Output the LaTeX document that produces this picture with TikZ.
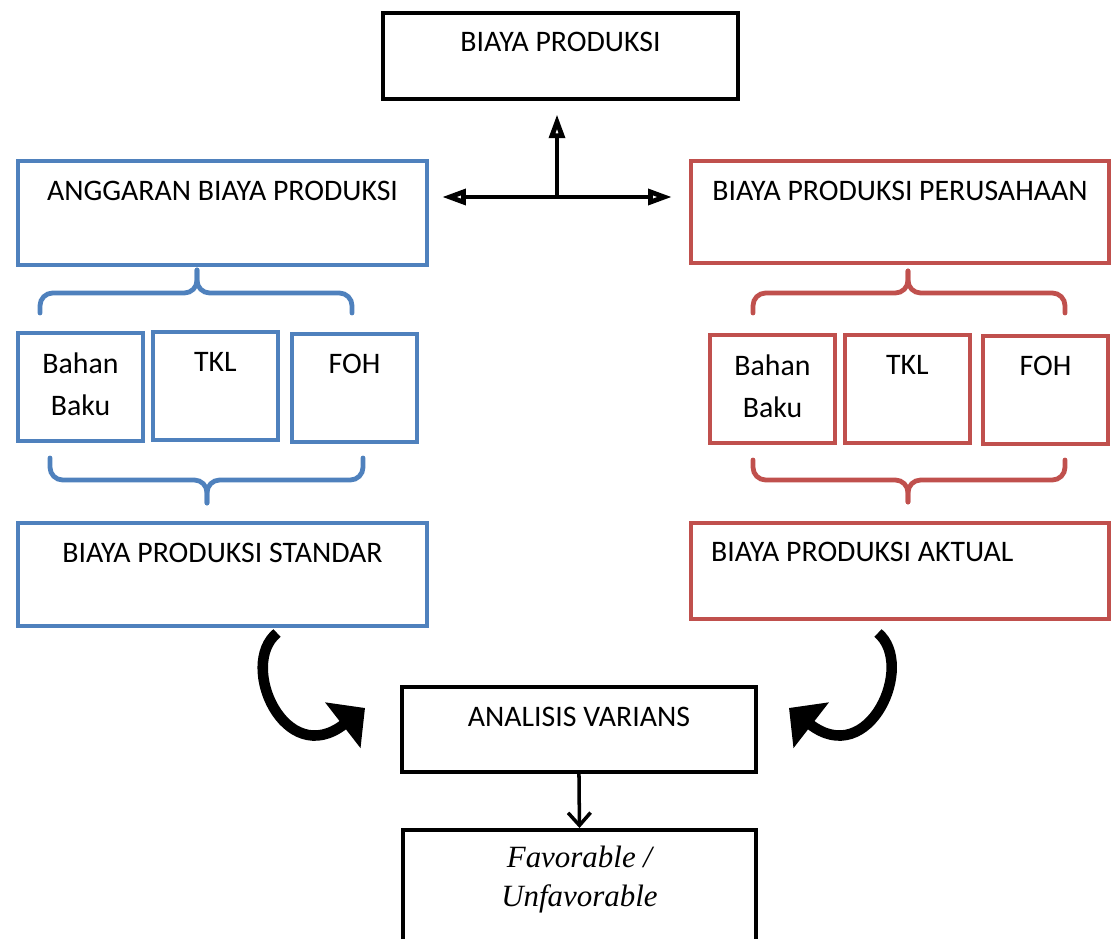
\documentclass[tikz,border=0pt]{standalone}
\usepackage{fontspec}
\setmainfont{Carlito}
\newfontfamily\serifit{Liberation Serif}
\usetikzlibrary{arrows.meta,positioning}

\definecolor{boxblue}{HTML}{4F81BD}
\definecolor{boxred}{HTML}{C0504D}

\def\px{0.025cm}
\def\boxline{2.8pt}

\begin{document}
\begin{tikzpicture}[x=\px, y=-\px,
    nodes = {font=\fontsize{21.2}{30}\selectfont},
    boxframe/.style = {draw, line width=\boxline, inner sep=0pt, anchor=north west},
    wh/.style 2 args = {minimum width=#1*\px, minimum height=#2*\px},
    boxtext/.style = {inner sep=0pt, align=center},
    bracket/.style = {line width=3.4pt, rounded corners=9pt, line cap=round},
    link/.style = {line width=3.4pt},
    bend arrow/.style = {line width=7.5pt, -{Triangle[length=20pt,width=40pt]}},
    >={Triangle[open,length=17pt,width=11pt]},
  ]
  \path[use as bounding box] (0,0) rectangle (1112,939);

  % top box
  \node[boxframe, wh={355}{86}] (prod) at (381,11) {};
  \node[boxtext, below=15pt of prod.north] (prod-t) {BIAYA PRODUKSI};

  % big boxes of both columns
  \foreach \nm/\bx/\by/\bw/\bht/\bcol/\btxt in {
      angg/16/159/409/104/boxblue/{ANGGARAN BIAYA PRODUKSI},
      perus/689/159/418/102/boxred/{BIAYA PRODUKSI PERUSAHAAN},
      std/16/521/409/103/boxblue/{BIAYA PRODUKSI STANDAR}%
    } {
      \node[boxframe, draw=\bcol, minimum width=\bw*\px, minimum height=\bht*\px]
        (\nm) at (\bx,\by) {};
      \node[boxtext, below=15.5pt of \nm.north] (\nm-t) {\btxt};
    }
  \node[boxframe, draw=boxred, wh={418}{96}] (akt) at (689,521) {};
  \node[boxtext, anchor=north west, below right=15pt and 15.5pt of akt.north west]
    (akt-t) {BIAYA PRODUKSI AKTUAL};          % left aligned in the original

  % cost elements
  \foreach \nm/\bx/\by/\bcol/\btxt in {
      lbb/16/331/boxblue/{Bahan\\Baku},
      ltkl/151/330/boxblue/TKL,
      lfoh/290/332/boxblue/FOH,
      rbb/708/333/boxred/{Bahan\\Baku},
      rtkl/843/333/boxred/TKL,
      rfoh/981/334/boxred/FOH%
    } {
      \node[boxframe, draw=\bcol, wh={125}{108}] (\nm) at (\bx,\by) {};
      \node[boxtext, below=15.5pt of \nm.north] (\nm-t) {\btxt};
    }

  % brackets above and below the elements
  \foreach \xa/\xb/\xm/\ya/\yb/\yt/\bcol in {
      40/352/197/313/293/270/boxblue,
      50/363/207/458/480/503/boxblue,
      753/1065/908/313/293/271/boxred,
      753/1065/908/460/480/502/boxred%
    } {
      \draw[bracket, draw=\bcol] (\xa,\ya) |- (\xm,\yb) -- (\xm,\yt);
      \draw[bracket, draw=\bcol] (\xb,\ya) |- (\xm,\yb) -- (\xm,\yt);
    }

  % analysis and result
  \node[boxframe, wh={354}{85}] (anl) at (400,685) {};
  \node[boxtext, below=15.5pt of anl.north] (anl-t) {ANALISIS VARIANS};
  \begin{scope}
    \clip (0,0) rectangle (1112,939);        % box runs off the page
    \node[boxframe, wh={353}{140}] (fav) at (401,828) {};
  \end{scope}
  \node[boxtext, font=\serifit\itshape\fontsize{22}{28}\selectfont,
    below=12.5pt of fav.north] (fav-t) {Favorable /\\Unfavorable};

  % arrows
  \coordinate (hub) at (557,197);
  \coordinate (hub-l) at (442,197);
  \coordinate (hub-r) at (672,197);
  \draw[link, <->] (hub-l) -- (hub-r);
  \draw[link, ->, shorten >=9.5pt] (hub) -- (hub |- prod.south);
  \draw[line width=2.5pt, -{Straight Barb[length=9pt,width=16pt]}] (anl.south) -- (fav.north);

  \coordinate (bend-l) at (277,633);
  \coordinate (tip-l) at (365,708);
  \coordinate (bend-r) at (878,633);
  \coordinate (tip-r) at (789,708);
  \draw[bend arrow] (bend-l) .. controls (238,665) and (285,770) .. (tip-l);
  \draw[bend arrow] (bend-r) .. controls (916,665) and (869,770) .. (tip-r);
\end{tikzpicture}
\end{document}
